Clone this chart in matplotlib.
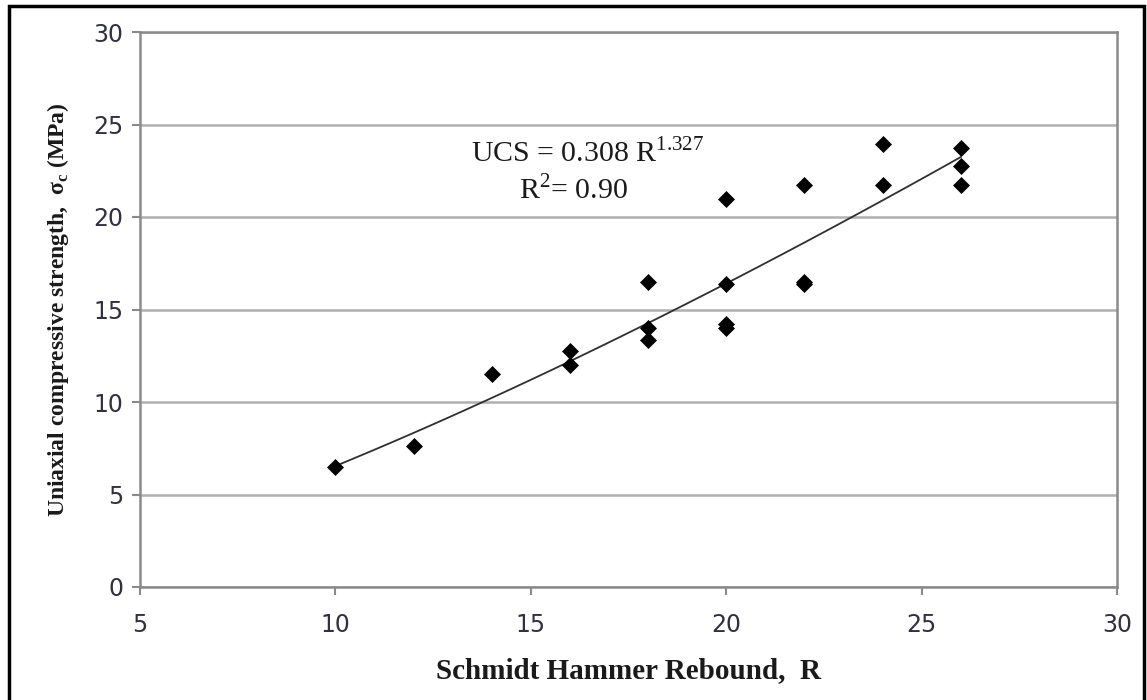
import matplotlib.pyplot as plt
from matplotlib.patches import Rectangle

plt.rcParams['mathtext.fontset'] = 'custom'
plt.rcParams['mathtext.rm'] = 'Liberation Serif'
plt.rcParams['mathtext.bf'] = 'Liberation Serif:bold'

# Schmidt hammer rebound vs UCS (MPa)
rebound = [10, 12, 14, 16, 16, 18, 18, 18, 20, 20, 20, 20, 22, 22, 22, 24, 24, 26, 26, 26]
ucs = [6.5, 7.6, 11.5, 12.75, 12.0, 16.5, 14.0, 13.35, 21.0, 16.4, 14.0, 14.2,
       21.75, 16.4, 16.5, 23.95, 21.75, 23.75, 22.75, 21.75]

# power trendline reported on the chart
coef_a = 0.308
coef_b = 1.327
r2 = 0.90

fig = plt.figure(figsize=(11.47, 7), dpi=100)
ax = fig.add_axes([140 / 1147, 1 - 587 / 700, 977 / 1147, 555 / 700])

grid_c = '#b0b0b0'
frame_c = '#8a8a8a'

ax.set_xlim(5, 30)
ax.set_ylim(0, 30)
ax.set_xticks(range(5, 31, 5))
ax.set_yticks(range(0, 31, 5))
ax.yaxis.grid(True, color=grid_c, lw=1.8)
ax.set_axisbelow(True)
for s in ax.spines.values():
    s.set_color(frame_c)
    s.set_linewidth(1.8)
ax.tick_params(axis='both', direction='out', length=6, width=1.5, color=frame_c,
               labelsize=17, labelcolor='#303040', pad=6)
ax.tick_params(axis='x', pad=13)
for lab in ax.get_xticklabels() + ax.get_yticklabels():
    lab.set_family('DejaVu Sans')

# trendline over the data range
x0, x1 = min(rebound), max(rebound)
xs = [x0 + (x1 - x0) * i / 100 for i in range(101)]
ys = [coef_a * v ** coef_b for v in xs]
ax.plot(xs, ys, color='#303030', lw=1.3, zorder=2)

ax.plot(rebound, ucs, linestyle='none', marker='D', ms=8.5, mfc='black',
        mec='black', mew=0.5, zorder=3)

ax.text(16.46, 23.45, 'UCS = %.3f R$^{\\mathregular{%.3f}}$' % (coef_a, coef_b),
        ha='center', va='center', fontsize=21.5, family='Liberation Serif', color='#1a1a1a')
ax.text(16.1, 21.45, 'R$^{\\mathregular{2}}$= %.2f' % r2,
        ha='center', va='center', fontsize=21.5, family='Liberation Serif', color='#1a1a1a')

ax.set_xlabel('Schmidt Hammer Rebound,  R', fontsize=21, family='Liberation Serif',
              fontweight='bold', color='#1a1a1a', labelpad=14)
ax.set_ylabel('Uniaxial compressive strength,  σ$_\\mathregular{c}$ (MPa)', fontsize=17,
              family='Liberation Serif', fontweight='bold', color='#1a1a1a', labelpad=16)

# outer black frame
fig.patches.append(Rectangle((9 / 1147, -0.02), 1135 / 1147, 1 - 6 / 700 + 0.02,
                             transform=fig.transFigure, fill=False, ec='black',
                             lw=2.5, clip_on=False))

fig.savefig('out.png', dpi=100)
